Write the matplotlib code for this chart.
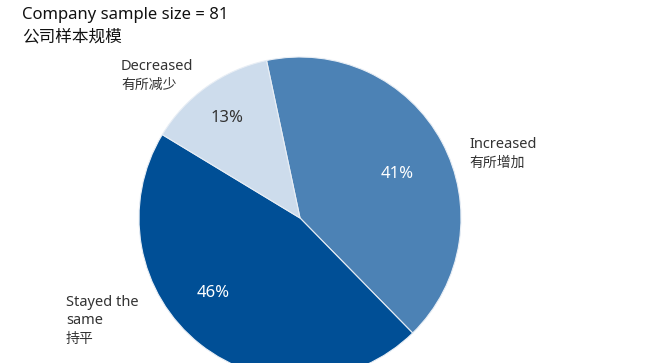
import matplotlib
matplotlib.use("Agg")
import matplotlib.pyplot as plt

# Survey result: change in company sample responses
categories_en = ["Increased", "Stayed the\nsame", "Decreased"]
categories_zh = ["有所增加", "持平", "有所减少"]
shares = [41, 46, 13]
colors = ["#4c82b5", "#004f96", "#cddcec"]
pct_colors = ["white", "white", "#333333"]

title_en = "Company sample size = 81"
title_zh = "公司样本规模"

FAMILY = ["Noto Sans", "Noto Sans CJK SC", "DejaVu Sans"]
plt.rcParams["font.family"] = FAMILY
TEXT = "#333333"

W, H = 652, 363
fig = plt.figure(figsize=(W / 100, H / 100), dpi=100)
ax = fig.add_axes([0, 0, 1, 1])

cx, cy, R = 300, H - 218, 161
wedges, _, autotexts = ax.pie(
    shares, center=(cx, cy), radius=R, startangle=102, counterclock=False,
    colors=colors, autopct=lambda p: f"{p:.0f}%", pctdistance=0.7,
    wedgeprops=dict(edgecolor="#e8eef5", linewidth=0.8),
    textprops=dict(fontsize=12),
)
ax.set_xlim(0, W)
ax.set_ylim(0, H)
ax.set_aspect("auto")
ax.axis("off")

# percentage label placement
pct_pos = [(397, H - 174), (213, H - 293), (227, H - 118)]
for t, pos, c in zip(autotexts, pct_pos, pct_colors):
    t.set_position(pos)
    t.set_color(c)
    t.set_ha("center")
    t.set_va("center")

# category labels outside the pie, one line per row
LINE = 17.5
label_pos = [(469, H - 145), (66, H - 303), (121, H - 67)]
for en, zh, (x, y) in zip(categories_en, categories_zh, label_pos):
    rows = en.split("\n")
    for i, row in enumerate(rows):
        ax.text(x, y - LINE * i, row, fontsize=10.5, color=TEXT, ha="left",
                va="center")
    ax.text(x, y - LINE * len(rows) - 1, zh, fontsize=10, color=TEXT,
            ha="left", va="center")

ax.text(22, H - 15, title_en, fontsize=12, color="#111111", ha="left",
        va="center")
ax.text(22, H - 37, title_zh, fontsize=12, color="#111111", ha="left",
        va="center")

fig.savefig("out.png", dpi=100)
